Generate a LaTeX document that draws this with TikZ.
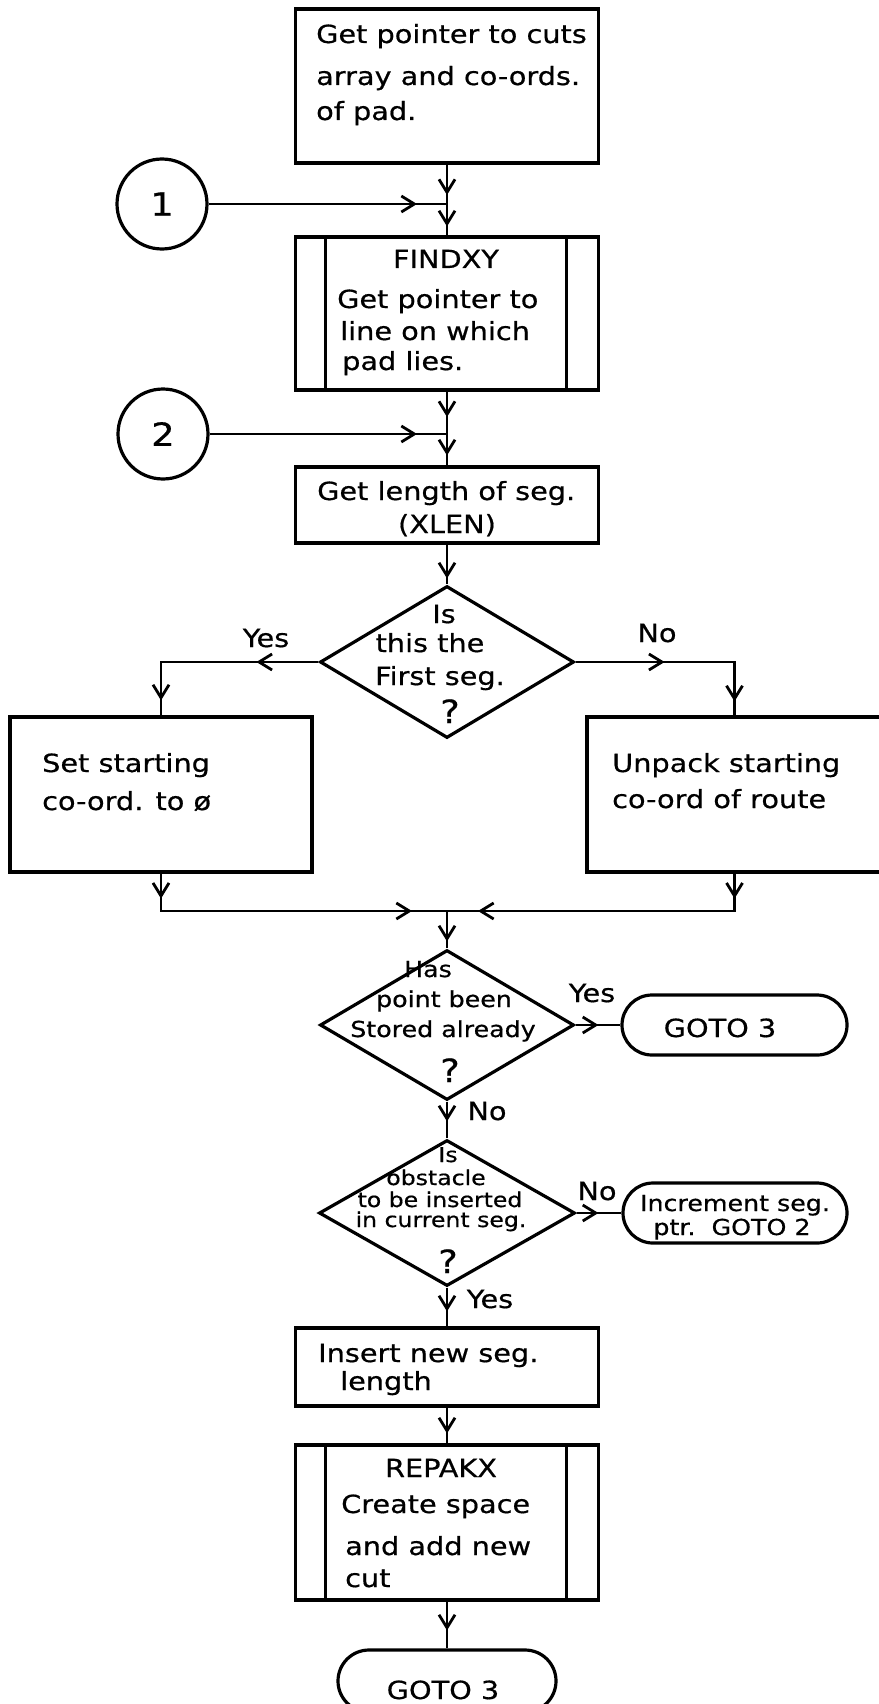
\documentclass[tikz,border=0pt]{standalone}
\usepackage{fontspec}
\newfontfamily\handfont[FakeStretch=1.15, FakeBold=0.6]{DejaVu Sans}
\newcommand\handL{\handfont\fontsize{25pt}{30pt}\selectfont}
\newcommand\handM{\handfont\fontsize{22pt}{26pt}\selectfont}
\newcommand\handS{\handfont\fontsize{20.5pt}{24pt}\selectfont}
\newcommand\handQ{\handfont\fontsize{32pt}{36pt}\selectfont}
\usetikzlibrary{arrows.meta,shapes.geometric,shapes.misc,decorations.markings}

\tikzset{
  outline/.style={draw=black, line width=3.2pt, inner sep=0pt},
  procbox/.style={outline, rectangle},
  decision/.style={outline, diamond},
  terminal/.style={outline, rounded rectangle},
  onpage/.style={outline, circle, minimum size=90pt, font=\handQ},
  flow/.style={draw=black, line width=2.8pt},
  txt/.style={inner sep=0pt, font=\handL},
  txtm/.style={inner sep=0pt, font=\handM},
  txts/.style={inner sep=0pt, font=\handS},
  txtq/.style={inner sep=0pt, font=\handQ},
  barbat/.style={postaction={decorate},
    decoration={markings, mark=at position #1 with {\arrow{>}}}},
  barbs/.style 2 args={postaction={decorate},
    decoration={markings, mark=at position #1 with {\arrow{>}},
                          mark=at position #2 with {\arrow{>}}}},
}

\begin{document}
\begin{tikzpicture}[x=1pt, y=-1pt, >={Straight Barb[length=13pt,width=16pt]}]
\useasboundingbox (0,0) rectangle (878,1704);
\fill[white] (0,0) rectangle (878,1704);

% ---- boxes and symbols ----
\node[procbox, minimum width=303pt, minimum height=154pt] (top) at (447,86) {};
\node[onpage] (c1) at (162,204) {1};
\coordinate (j1) at (447,204);
\node[procbox, minimum width=303pt, minimum height=153pt] (findxy) at (447,313.5) {};
\draw[line width=3.2pt] ([xshift=31.5pt]findxy.north west) -- ([xshift=31.5pt]findxy.south west);
\draw[line width=3.2pt] ([xshift=-33.5pt]findxy.north east) -- ([xshift=-33.5pt]findxy.south east);
\node[onpage] (c2) at (163,434) {2};
\coordinate (j2) at (447,434);
\node[procbox, minimum width=303pt, minimum height=76pt] (len) at (447,505) {};
\node[decision, minimum width=254pt, minimum height=152pt] (d1) at (447,662) {};
\node[procbox, minimum width=302pt, minimum height=155pt] (lbox) at (161,794.5) {};
\node[procbox, minimum width=295pt, minimum height=155pt] (rbox) at (734.5,794.5) {};
\coordinate (j3) at (447,911);
\node[decision, minimum width=254pt, minimum height=150pt] (d2) at (447,1025) {};
\node[terminal, minimum width=225pt, minimum height=60pt] (goto1) at (734.5,1025) {};
\node[decision, minimum width=256pt, minimum height=146pt] (d3) at (447,1213) {};
\node[terminal, minimum width=224pt, minimum height=60pt] (incr) at (735,1213) {};
\node[procbox, minimum width=303pt, minimum height=78pt] (ins) at (447,1367) {};
\node[procbox, minimum width=303pt, minimum height=155pt] (rep) at (447,1522.5) {};
\draw[line width=3.2pt] ([xshift=31.5pt]rep.north west) -- ([xshift=31.5pt]rep.south west);
\draw[line width=3.2pt] ([xshift=-33.5pt]rep.north east) -- ([xshift=-33.5pt]rep.south east);
\node[terminal, minimum width=218pt, minimum height=62pt] (goto2) at (447,1681) {};

% ---- texts ----
\node[txt, anchor=base west] (top-a) at (316,43) {Get pointer to cuts};
\node[txt, anchor=base west] (top-b) at (316,85) {array and co-ords.};
\node[txt, anchor=base west] (top-c) at (316,120) {of pad.};

\node[txt, anchor=base] (fx-t) at (446,268) {FINDXY};
\node[txt, anchor=base west] (fx-a) at (337,308) {Get pointer to};
\node[txt, anchor=base west] (fx-b) at (340,340) {line on which};
\node[txt, anchor=base west] (fx-c) at (342,370) {pad lies.};

\node[txt, anchor=base west] (len-a) at (317,500) {Get length of seg.};
\node[txt, anchor=base] (len-b) at (447,533) {(XLEN)};

\node[txt, anchor=base] (d1-a) at (444,623) {Is};
\node[txt, anchor=base] (d1-b) at (430,652) {this the};
\node[txt, anchor=base] (d1-c) at (440,685) {First seg.};
\node[txtq, anchor=base] (d1-q) at (450,723) {?};
\node[txt, anchor=base] (yes1) at (266,647) {Yes};
\node[txt, anchor=base] (no1) at (657,642) {No};

\node[txt, anchor=base west] (lb-a) at (42,772) {Set starting};
\node[txt, anchor=base west] (lb-b) at (42,810) {co-ord. to ø};
\node[txt, anchor=base west] (rb-a) at (612,772) {Unpack starting};
\node[txt, anchor=base west] (rb-b) at (612,808) {co-ord of route};

\node[txtm, anchor=base] (d2-a) at (428,977) {Has};
\node[txtm, anchor=base] (d2-b) at (444,1007) {point been};
\node[txtm, anchor=base] (d2-c) at (443,1037) {Stored already};
\node[txtq, anchor=base] (d2-q) at (450,1082) {?};
\node[txt, anchor=base] (yes2) at (592,1002) {Yes};
\node[txt, anchor=base] (goto1-t) at (720,1037) {GOTO 3};
\node[txt, anchor=base] (no2) at (487,1120) {No};

\node[txts, anchor=base] (d3-a) at (448,1162) {Is};
\node[txts, anchor=base] (d3-b) at (436,1185) {obstacle};
\node[txts, anchor=base] (d3-c) at (440,1207) {to be inserted};
\node[txts, anchor=base] (d3-d) at (441,1227) {in current seg.};
\node[txtq, anchor=base] (d3-q) at (448,1273) {?};
\node[txt, anchor=base] (no3) at (597,1200) {No};
\node[txtm, anchor=base] (incr-a) at (735,1211) {Increment seg.};
\node[txtm, anchor=base] (incr-b) at (732,1235) {ptr.\ \ GOTO 2};
\node[txt, anchor=base] (yes3) at (490,1308) {Yes};

\node[txt, anchor=base west] (ins-a) at (318,1362) {Insert new seg.};
\node[txt, anchor=base west] (ins-b) at (340,1390) {length};

\node[txt, anchor=base] (rep-t) at (441,1477) {REPAKX};
\node[txt, anchor=base west] (rep-a) at (341,1513) {Create space};
\node[txt, anchor=base west] (rep-b) at (345,1555) {and add new};
\node[txt, anchor=base west] (rep-c) at (345,1587) {cut};

\node[txt, anchor=base] (goto2-t) at (443,1699) {GOTO 3};

% ---- connectors ----
\draw[flow, barbat=-9pt] (top.south) -- (j1);
\draw[flow, barbat=-9pt] (j1) -- (findxy.north);
\draw[flow, barbat=-30pt] (c1.east) -- (j1);
\draw[flow, barbat=-17pt] (findxy.south) -- (j2);
\draw[flow, barbat=-10pt] (j2) -- (len.north);
\draw[flow, barbat=-30pt] (c2.east) -- (j2);
\draw[flow, barbat=-6pt] (len.south) -- (d1.north);
\draw[flow, barbs={62pt}{-15pt}] (d1.west) -| (lbox.north);
\draw[flow, barbs={89pt}{-14pt}] (d1.east) -| (rbox.north);
\draw[flow, barbs={25pt}{-35pt}] (lbox.south) |- (j3);
\draw[flow, barbs={25pt}{-31pt}] (rbox.south) |- (j3);
\draw[flow, barbat=-7pt] (j3) -- (d2.north);
\draw[flow, barbat=-22pt] (d2.east) -- (goto1.west);
\draw[flow, barbat=-17pt] (d2.south) -- (d3.north);
\draw[flow, barbat=-23pt] (d3.east) -- (incr.west);
\draw[flow, barbat=-15pt] (d3.south) -- (ins.north);
\draw[flow, barbat=-10pt] (ins.south) -- (rep.north);
\draw[flow, barbat=-18pt] (rep.south) -- (goto2.north);
\end{tikzpicture}
\end{document}
